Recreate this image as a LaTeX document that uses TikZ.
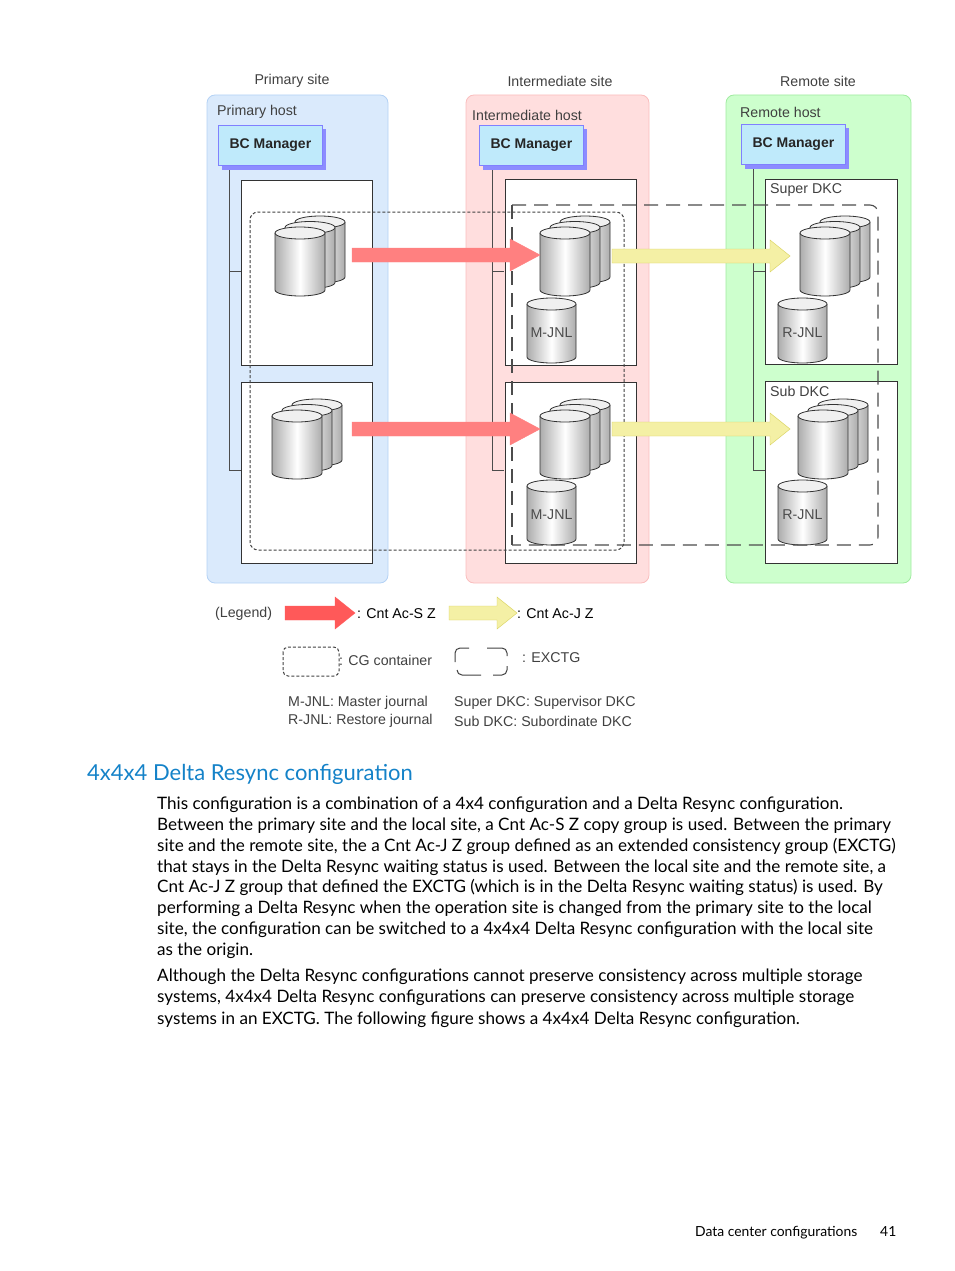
\documentclass[tikz,border=0pt]{standalone}
\usepackage{fontspec}
\setmainfont{Liberation Sans}
\newfontfamily\bodyf{Lato}
\definecolor{sblue}{RGB}{218,234,252}
\definecolor{sblueb}{RGB}{180,210,245}
\definecolor{spink}{RGB}{255,222,222}
\definecolor{spinkb}{RGB}{250,190,190}
\definecolor{sgreen}{RGB}{205,255,205}
\definecolor{sgreenb}{RGB}{160,235,160}
\definecolor{hblue}{RGB}{20,130,200}
\begin{document}
\begin{tikzpicture}[x=1pt,y=-1pt,
  site/.style 2 args={draw=#2, fill=#1, rounded corners=8pt, line width=0.8pt},
  stor/.style={draw=black!80, fill=white, line width=0.9pt},
  bcm/.style={draw=blue!50, fill=cyan!25, line width=0.8pt},
  lbl/.style={font=\fontsize{14.2}{16}\selectfont, text=black!75, inner sep=0pt},
  body/.style={font=\bodyf\fontsize{17.1}{20}\selectfont, anchor=base west, inner sep=0pt},
  cgc/.style={dash pattern=on 3pt off 2pt, line width=1pt, black!75, rounded corners=8pt},
  exc/.style={dash pattern=on 14pt off 8pt, line width=1.1pt, black!70},
  hl/.style={line width=1pt, black!70}]
\useasboundingbox (0,0) rectangle (954,1271);
\newcommand\drum[5]{%
  \shade[left color=gray!65, right color=gray!65, middle color=white]
    (#1,#2) -- (#1,#2+#4) arc[start angle=180,end angle=0,x radius=#3/2,y radius=6] -- (#1+#3,#2) -- cycle;
  \draw[black!80, line width=0.8pt] (#1,#2) -- (#1,#2+#4) arc[start angle=180,end angle=0,x radius=#3/2,y radius=6] -- (#1+#3,#2);
  \draw[black!80, line width=0.8pt, fill=gray!12] (#1+#3/2,#2) ellipse[x radius=#3/2, y radius=6];
  \node[lbl, text=black!70] at (#1+#3/2,#2+#4/2+2) {#5};}
\newcommand\stackd[2]{%
  \drum{#1+20}{#2-11}{50}{55}{}\drum{#1+10}{#2-5.5}{50}{55}{}\drum{#1}{#2}{50}{57}{}}
\newcommand\harrow[6]{% x1 x2 y headx color drawcolor
  \fill[#5, draw=#6] (#1,#3-7) -- (#4,#3-7) -- (#4,#3-16) -- (#2,#3) -- (#4,#3+16) -- (#4,#3+7) -- (#1,#3+7) -- cycle;}
% sites
\node[lbl] (ps) at (292,81) {Primary site};
\node[lbl] (is) at (560,81) {Intermediate site};
\node[lbl] (rs) at (818,81) {Remote site};
\draw[site={sblue}{sblueb}] (207,95) rectangle (388,583);
\draw[site={spink}{spinkb}] (466,95) rectangle (649,583);
\draw[site={sgreen}{sgreenb}] (726,95) rectangle (911,583);
\node[lbl, anchor=west] at (217,112) {Primary host};
\node[lbl, anchor=west] at (472,115) {Intermediate host};
\node[lbl, anchor=west] at (740,112) {Remote host};
% host lines
\foreach \x/\t in {229/166,492/166,753/162}{
  \draw[hl] (\x,\t) -- (\x,470) -- (\x+12,470);
  \draw[hl] (\x,271) -- (\x+12,271);}
% BC managers
\foreach \x/\y/\n in {218/125/bp,479/125/bi,741/124/br}{
  \fill[blue!45] (\x+4,\y+4) rectangle (\x+108,\y+45);
  \node[bcm, minimum width=104pt, minimum height=40pt, anchor=north west, font=\bfseries\fontsize{14}{16}\selectfont, text=black!85] (\n) at (\x,\y) {BC Manager};}
% storage boxes
\draw[stor] (241,180) rectangle (372,365);
\draw[stor] (241,382) rectangle (372,563);
\draw[stor] (505,179) rectangle (636,365);
\draw[stor] (505,382) rectangle (636,563);
\draw[stor] (765,179) rectangle (897,364);
\draw[stor] (765,381) rectangle (897,563);
\node[lbl, anchor=north west] at (770,183) {Super DKC};
\node[lbl, anchor=north west] at (770,386) {Sub DKC};
% cylinders
\stackd{275}{233}\stackd{272}{416}
\stackd{540}{233}\stackd{540}{416}
\stackd{800}{233}\stackd{798}{416}
\drum{527}{304}{49}{53}{M-JNL}\drum{527}{486}{49}{53}{M-JNL}
\drum{778}{304}{49}{53}{R-JNL}\drum{778}{486}{49}{53}{R-JNL}
% containers
\draw[cgc] (250,212) rectangle (624,550);
\draw[exc] (512,205) -- (870,205) [rounded corners=8pt] -- (878,205) -- (878,545) -- (512,545);
\draw[exc] (512,205) -- (512,545);
% arrows
\harrow{352}{540}{255}{510}{red!50!white}{red!50!white}
\harrow{352}{540}{429}{510}{red!50!white}{red!50!white}
\harrow{612}{790}{256}{770}{yellow!25!white!90!olive}{yellow!40!olive!60}
\harrow{612}{790}{429}{770}{yellow!25!white!90!olive}{yellow!40!olive!60}
% legend
\node[lbl, anchor=west] at (215,614) {(Legend)};
\harrow{285}{355}{613}{335}{red!65!white}{red!65!white}
\node[lbl, anchor=west, text=black] at (357,614) {: Cnt Ac-S Z};
\harrow{449}{517}{613}{497}{yellow!25!white!90!olive}{yellow!40!olive!60}
\node[lbl, anchor=west, text=black] at (517,614) {: Cnt Ac-J Z};
\draw[cgc, rounded corners=5pt] (283,647) rectangle (339,676);
\node[lbl, anchor=west] at (339,660) {: CG container};
\draw[line width=1pt, black!75, rounded corners=5pt] (469,648) -- (455,648) -- (455,662);
\draw[line width=1pt, black!75, rounded corners=5pt] (487,648) -- (507,648) -- (507,656);
\draw[line width=1pt, black!75, rounded corners=5pt] (507,666) -- (507,675) -- (493,675);
\draw[line width=1pt, black!75, rounded corners=5pt] (481,675) -- (457,675) -- (457,670);
\node[lbl, anchor=west] at (522,658) {: EXCTG};
\node[lbl, anchor=west] at (288,703) {M-JNL: Master journal};
\node[lbl, anchor=west] at (288,721) {R-JNL: Restore journal};
\node[lbl, anchor=west] at (454,703) {Super DKC: Supervisor DKC};
\node[lbl, anchor=west] at (454,721) {Sub DKC: Subordinate DKC};
% text
\node[anchor=base west, inner sep=0pt, font=\bodyf\fontsize{22}{26}\selectfont, text=hblue] at (87,780) {4x4x4 Delta Resync configuration};
\node[body] at (157,809) {This configuration is a combination of a 4x4 configuration and a Delta Resync configuration.};
\node[body] at (157,830) {Between the primary site and the local site, a Cnt Ac-S Z copy group is used. Between the primary};
\node[body] at (157,851) {site and the remote site, the a Cnt Ac-J Z group defined as an extended consistency group (EXCTG)};
\node[body] at (157,872) {that stays in the Delta Resync waiting status is used. Between the local site and the remote site, a};
\node[body] at (157,892) {Cnt Ac-J Z group that defined the EXCTG (which is in the Delta Resync waiting status) is used. By};
\node[body] at (157,913) {performing a Delta Resync when the operation site is changed from the primary site to the local};
\node[body] at (157,934) {site, the configuration can be switched to a 4x4x4 Delta Resync configuration with the local site};
\node[body] at (157,955) {as the origin.};
\node[body] at (157,981) {Although the Delta Resync configurations cannot preserve consistency across multiple storage};
\node[body] at (157,1002) {systems, 4x4x4 Delta Resync configurations can preserve consistency across multiple storage};
\node[body] at (157,1024) {systems in an EXCTG. The following figure shows a 4x4x4 Delta Resync configuration.};
\node[anchor=base west, inner sep=0pt, font=\bodyf\fontsize{13.9}{16}\selectfont] at (695,1236) {Data center configurations};
\node[anchor=base west, inner sep=0pt, font=\bodyf\fontsize{13.9}{16}\selectfont] at (880,1236) {41};
\end{tikzpicture}
\end{document}
